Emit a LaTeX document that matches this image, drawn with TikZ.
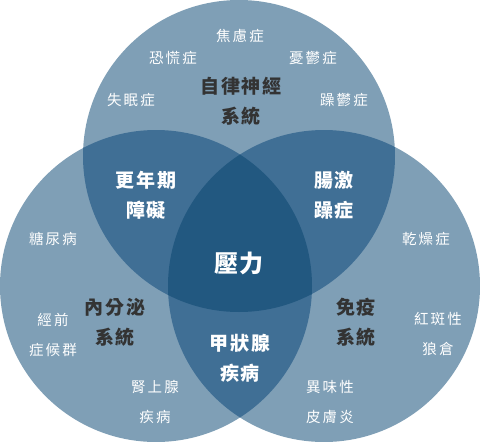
\documentclass[tikz,border=0pt]{standalone}
\usepackage{fontspec}
\setmainfont{Noto Sans CJK TC}
\usepackage{tikz}
\definecolor{vennLight}{RGB}{127,159,182}
\definecolor{vennMid}{RGB}{64,111,149}
\definecolor{vennDeep}{RGB}{34,88,128}
\definecolor{vennInk}{RGB}{51,51,51}
\tikzset{
    vennLabel/.style={
        text=white,
        align=center,
        inner sep=0pt,
        font=\fontsize{14.5}{30}\selectfont\addfontfeature{LetterSpace=14}
    },
    vennSystem/.style={
        text=vennInk,
        align=center,
        inner sep=0pt,
        font=\fontsize{19}{30}\selectfont\bfseries\addfontfeature{LetterSpace=10}
    },
    vennOverlap/.style={
        vennSystem,
        text=white
    },
    vennCore/.style={
        text=white,
        inner sep=0pt,
        font=\fontsize{24}{28}\selectfont\bfseries\addfontfeature{LetterSpace=8}
    }
}
\newcommand{\topCircle}{(239,156) circle[radius=156]}
\newcommand{\leftCircle}{(156,286) circle[radius=156]}
\newcommand{\rightCircle}{(324,286) circle[radius=156]}

\begin{document}
\begin{tikzpicture}[x=1pt,y=-1pt]
    \useasboundingbox (0,0) rectangle (480,442);

    % three circles and their overlaps
    \fill[vennLight] \topCircle;
    \fill[vennLight] \leftCircle;
    \fill[vennLight] \rightCircle;
    \begin{scope}
        \clip \topCircle;
        \fill[vennMid] \leftCircle;
        \fill[vennMid] \rightCircle;
    \end{scope}
    \begin{scope}
        \clip \leftCircle;
        \fill[vennMid] \rightCircle;
    \end{scope}
    \begin{scope}
        \clip \topCircle;
        \clip \leftCircle;
        \fill[vennDeep] \rightCircle;
    \end{scope}

    % autonomic nervous system
    \node[vennSystem] (autonomic) at (241,101) {自律神經\\系統};
    \node[vennLabel] (anxiety) at (240,36) {焦慮症};
    \node[vennLabel] (panic) at (173,58) {恐慌症};
    \node[vennLabel] (depress) at (313,58) {憂鬱症};
    \node[vennLabel] (insomnia) at (131,100) {失眠症};
    \node[vennLabel] (bipolar) at (344,100) {躁鬱症};

    % endocrine system
    \node[vennSystem] (endocrine) at (115,322) {內分泌\\系統};
    \node[vennLabel] (diabetes) at (53,239) {糖尿病};
    \node[vennLabel] (pms) at (53,335) {經前\\症候群};
    \node[vennLabel] (adrenal) at (155,402) {腎上腺\\疾病};

    % immune system
    \node[vennSystem] (immune) at (356,322) {免疫\\系統};
    \node[vennLabel] (dryness) at (426,239) {乾燥症};
    \node[vennLabel] (lupus) at (438,334) {紅斑性\\狼倉};
    \node[vennLabel] (atopic) at (330,402) {異味性\\皮膚炎};

    % overlaps
    \node[vennOverlap] (menopause) at (146,195) {更年期\\障礙};
    \node[vennOverlap] (bowel) at (334,195) {腸激\\躁症};
    \node[vennOverlap] (thyroid) at (240,358) {甲狀腺\\疾病};
    \node[vennCore] (stress) at (239,263) {壓力};
\end{tikzpicture}
\end{document}
